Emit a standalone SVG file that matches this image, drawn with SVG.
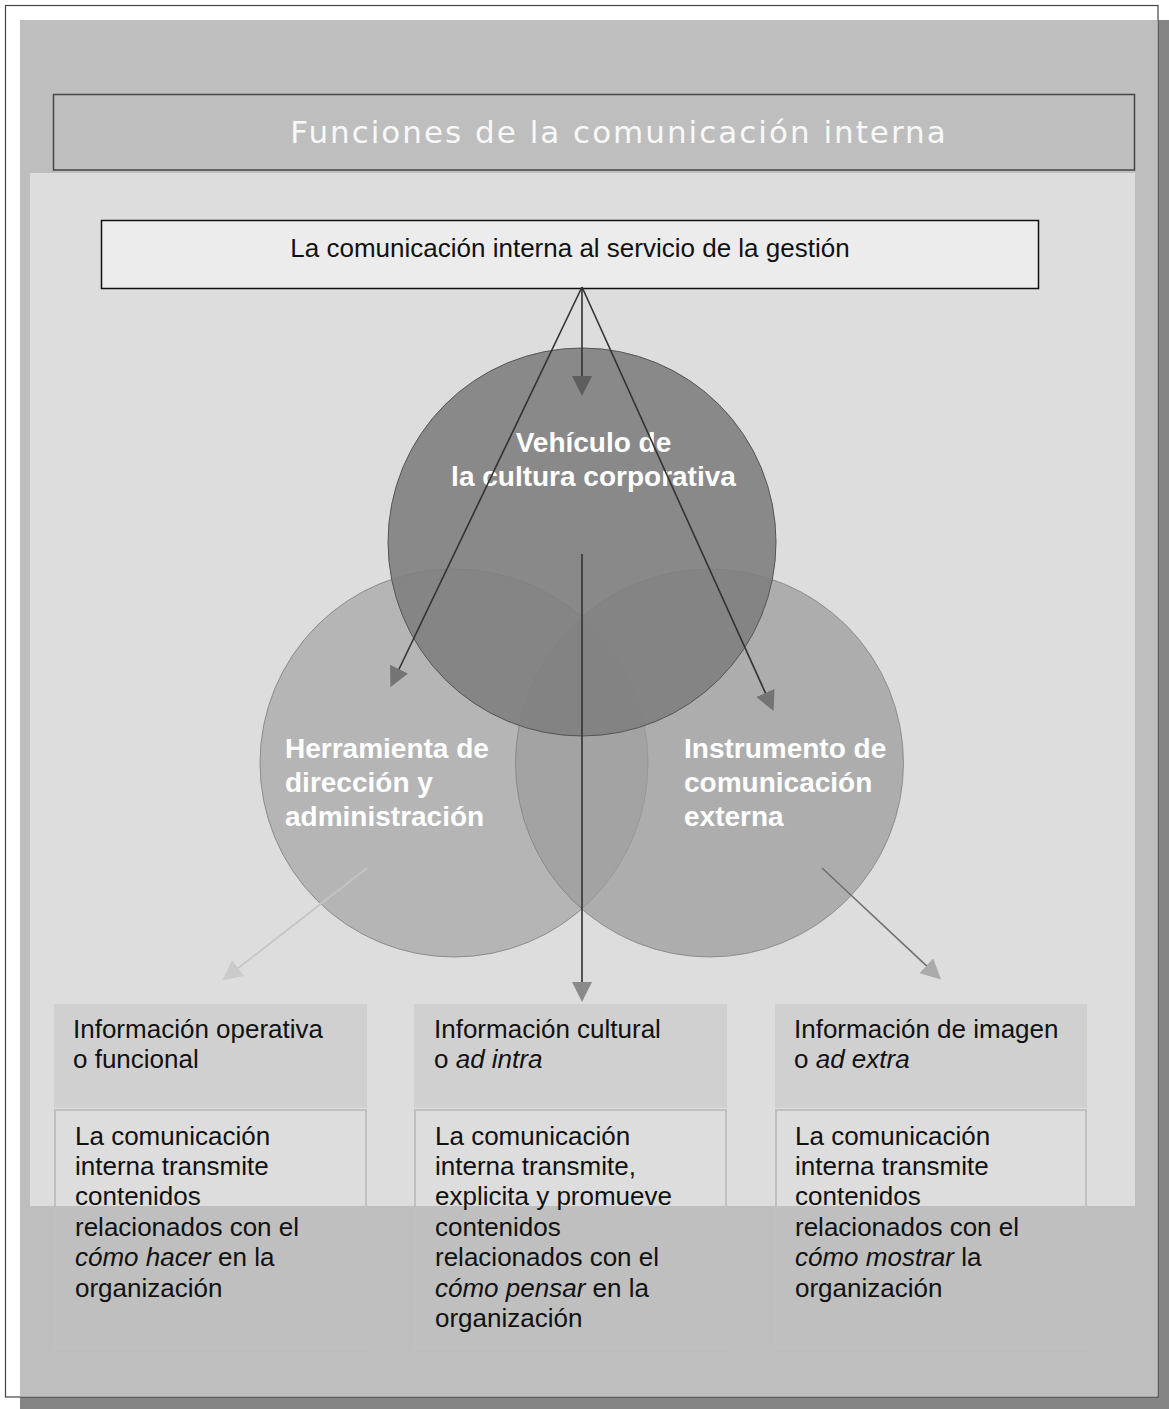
<svg xmlns="http://www.w3.org/2000/svg" width="1169" height="1409" viewBox="0 0 1169 1409">
  <style>
    .title { font-family: "DejaVu Sans", "Liberation Sans", sans-serif; font-size: 31px; fill: #f8f8f8; letter-spacing: 2px; }
    .t { font-family: "Liberation Sans", Arial, sans-serif; font-size: 26px; fill: #111; }
    .ct { font-family: "Liberation Sans", Arial, sans-serif; font-size: 28px; font-weight: bold; fill: #ffffff; }
    .it { font-style: italic; }
    .hdr { fill: #d0d0d0; }
    .body { fill: #ffffff; fill-opacity: 0.02; stroke: #c0c0c0; stroke-width: 2; }
    .ln { fill: none; stroke: #333; stroke-width: 1.6; }
  </style>
  <defs>
    <marker id="ahDark" markerUnits="userSpaceOnUse" viewBox="0 0 20 20" markerWidth="20" markerHeight="20" refX="1" refY="10" orient="auto"><path d="M0,0 L20,10 L0,20 z" fill="#5e5e5e"/></marker>
    <marker id="ahMid" markerUnits="userSpaceOnUse" viewBox="0 0 20 20" markerWidth="20" markerHeight="20" refX="1" refY="10" orient="auto"><path d="M0,0 L20,10 L0,20 z" fill="#747474"/></marker>
    <marker id="ahGray" markerUnits="userSpaceOnUse" viewBox="0 0 20 20" markerWidth="20" markerHeight="20" refX="1" refY="10" orient="auto"><path d="M0,0 L20,10 L0,20 z" fill="#8a8a8a"/></marker>
    <marker id="ahLight" markerUnits="userSpaceOnUse" viewBox="0 0 20 20" markerWidth="20" markerHeight="20" refX="1" refY="10" orient="auto"><path d="M0,0 L20,10 L0,20 z" fill="#cacaca"/></marker>
    <marker id="ahSoft" markerUnits="userSpaceOnUse" viewBox="0 0 20 20" markerWidth="20" markerHeight="20" refX="1" refY="10" orient="auto"><path d="M0,0 L20,10 L0,20 z" fill="#aaaaaa"/></marker>
  </defs>

  <!-- background frame -->
  <g id="frame">
    <rect x="20" y="20" width="1149" height="1389" fill="#858585"/>
    <rect x="5.5" y="5.5" width="1152.5" height="1391.5" fill="#ffffff" stroke="#444" stroke-width="1.2"/>
    <rect x="20" y="20" width="1137.5" height="1376.5" fill="#bebebe"/>
    <rect x="30" y="173" width="1105" height="1033" fill="#dddddd"/>
  </g>

  <g id="title">
    <rect x="53.5" y="94.5" width="1081" height="75.5" fill="#bebebe" stroke="#444" stroke-width="1.5"/>
    <text class="title" x="619" y="143" text-anchor="middle">Funciones de la comunicación interna</text>
  </g>

  <g id="gestion">
    <rect x="101.5" y="220.5" width="937" height="68" fill="#ececec" stroke="#111" stroke-width="1.5"/>
    <text class="t" x="570" y="257" text-anchor="middle">La comunicación interna al servicio de la gestión</text>
  </g>

  <g id="herramienta">
    <circle cx="454" cy="763" r="194" fill="#b5b5b5" stroke="#8c8c8c" stroke-width="1"/>
  </g>
  <g id="instrumento">
    <circle cx="709.5" cy="763" r="194" fill="#9c9c9c" fill-opacity="0.74" stroke="#7a7a7a" stroke-opacity="0.7" stroke-width="1"/>
  </g>
  <g id="vehiculo">
    <circle cx="582" cy="542" r="194" fill="#7f7f7f" fill-opacity="0.9" stroke="#555" stroke-width="1"/>
    <text class="ct" x="593.5" y="451.5" text-anchor="middle">Vehículo de</text>
    <text class="ct" x="593.5" y="485.5" text-anchor="middle">la cultura corporativa</text>
  </g>
  <g id="herramienta-label">
    <text class="ct" x="285" y="758">Herramienta de</text>
    <text class="ct" x="285" y="792">dirección y</text>
    <text class="ct" x="285" y="826">administración</text>
  </g>
  <g id="instrumento-label">
    <text class="ct" x="684" y="758">Instrumento de</text>
    <text class="ct" x="684" y="792">comunicación</text>
    <text class="ct" x="684" y="826">externa</text>
  </g>

  <g id="operativa">
    <rect class="hdr" x="54" y="1004" width="313" height="104"/>
    <rect class="body" x="55" y="1110" width="311" height="238"/>
    <text class="t" x="73" y="1038">Información operativa</text>
    <text class="t" x="73" y="1068">o funcional</text>
    <text class="t" x="75" y="1144.5">La comunicación</text>
    <text class="t" x="75" y="1174.9">interna transmite</text>
    <text class="t" x="75" y="1205.3">contenidos</text>
    <text class="t" x="75" y="1235.7">relacionados con el</text>
    <text class="t" x="75" y="1266.1"><tspan class="it">cómo hacer</tspan> en la</text>
    <text class="t" x="75" y="1296.5">organización</text>
  </g>

  <g id="cultural">
    <rect class="hdr" x="414" y="1004" width="313" height="104"/>
    <rect class="body" x="415" y="1110" width="311" height="238"/>
    <text class="t" x="434" y="1038">Información cultural</text>
    <text class="t" x="434" y="1068">o <tspan class="it">ad intra</tspan></text>
    <text class="t" x="435" y="1144.5">La comunicación</text>
    <text class="t" x="435" y="1174.9">interna transmite,</text>
    <text class="t" x="435" y="1205.3">explicita y promueve</text>
    <text class="t" x="435" y="1235.7">contenidos</text>
    <text class="t" x="435" y="1266.1">relacionados con el</text>
    <text class="t" x="435" y="1296.5"><tspan class="it">cómo pensar</tspan> en la</text>
    <text class="t" x="435" y="1326.9">organización</text>
  </g>

  <g id="imagen">
    <rect class="hdr" x="775" y="1004" width="312" height="104"/>
    <rect class="body" x="776" y="1110" width="310" height="238"/>
    <text class="t" x="794" y="1038">Información de imagen</text>
    <text class="t" x="794" y="1068">o <tspan class="it">ad extra</tspan></text>
    <text class="t" x="795" y="1144.5">La comunicación</text>
    <text class="t" x="795" y="1174.9">interna transmite</text>
    <text class="t" x="795" y="1205.3">contenidos</text>
    <text class="t" x="795" y="1235.7">relacionados con el</text>
    <text class="t" x="795" y="1266.1"><tspan class="it">cómo mostrar</tspan> la</text>
    <text class="t" x="795" y="1296.5">organización</text>
  </g>

  <g id="connectors">
    <path class="ln" d="M582,287 L582,377" marker-end="url(#ahDark)"/>
    <path class="ln" d="M582,287 L398.6,670" marker-end="url(#ahMid)"/>
    <path class="ln" d="M582,287 L765.8,693.8" marker-end="url(#ahMid)"/>
    <path class="ln" d="M582,554 L582,983" stroke-width="2" marker-end="url(#ahGray)"/>
    <path class="ln" d="M367,868 L237.5,968.7" style="stroke:#c4c4c4" marker-end="url(#ahLight)"/>
    <path class="ln" d="M822,868 L927.1,966.4" style="stroke:#707070" marker-end="url(#ahSoft)"/>
  </g>
</svg>
